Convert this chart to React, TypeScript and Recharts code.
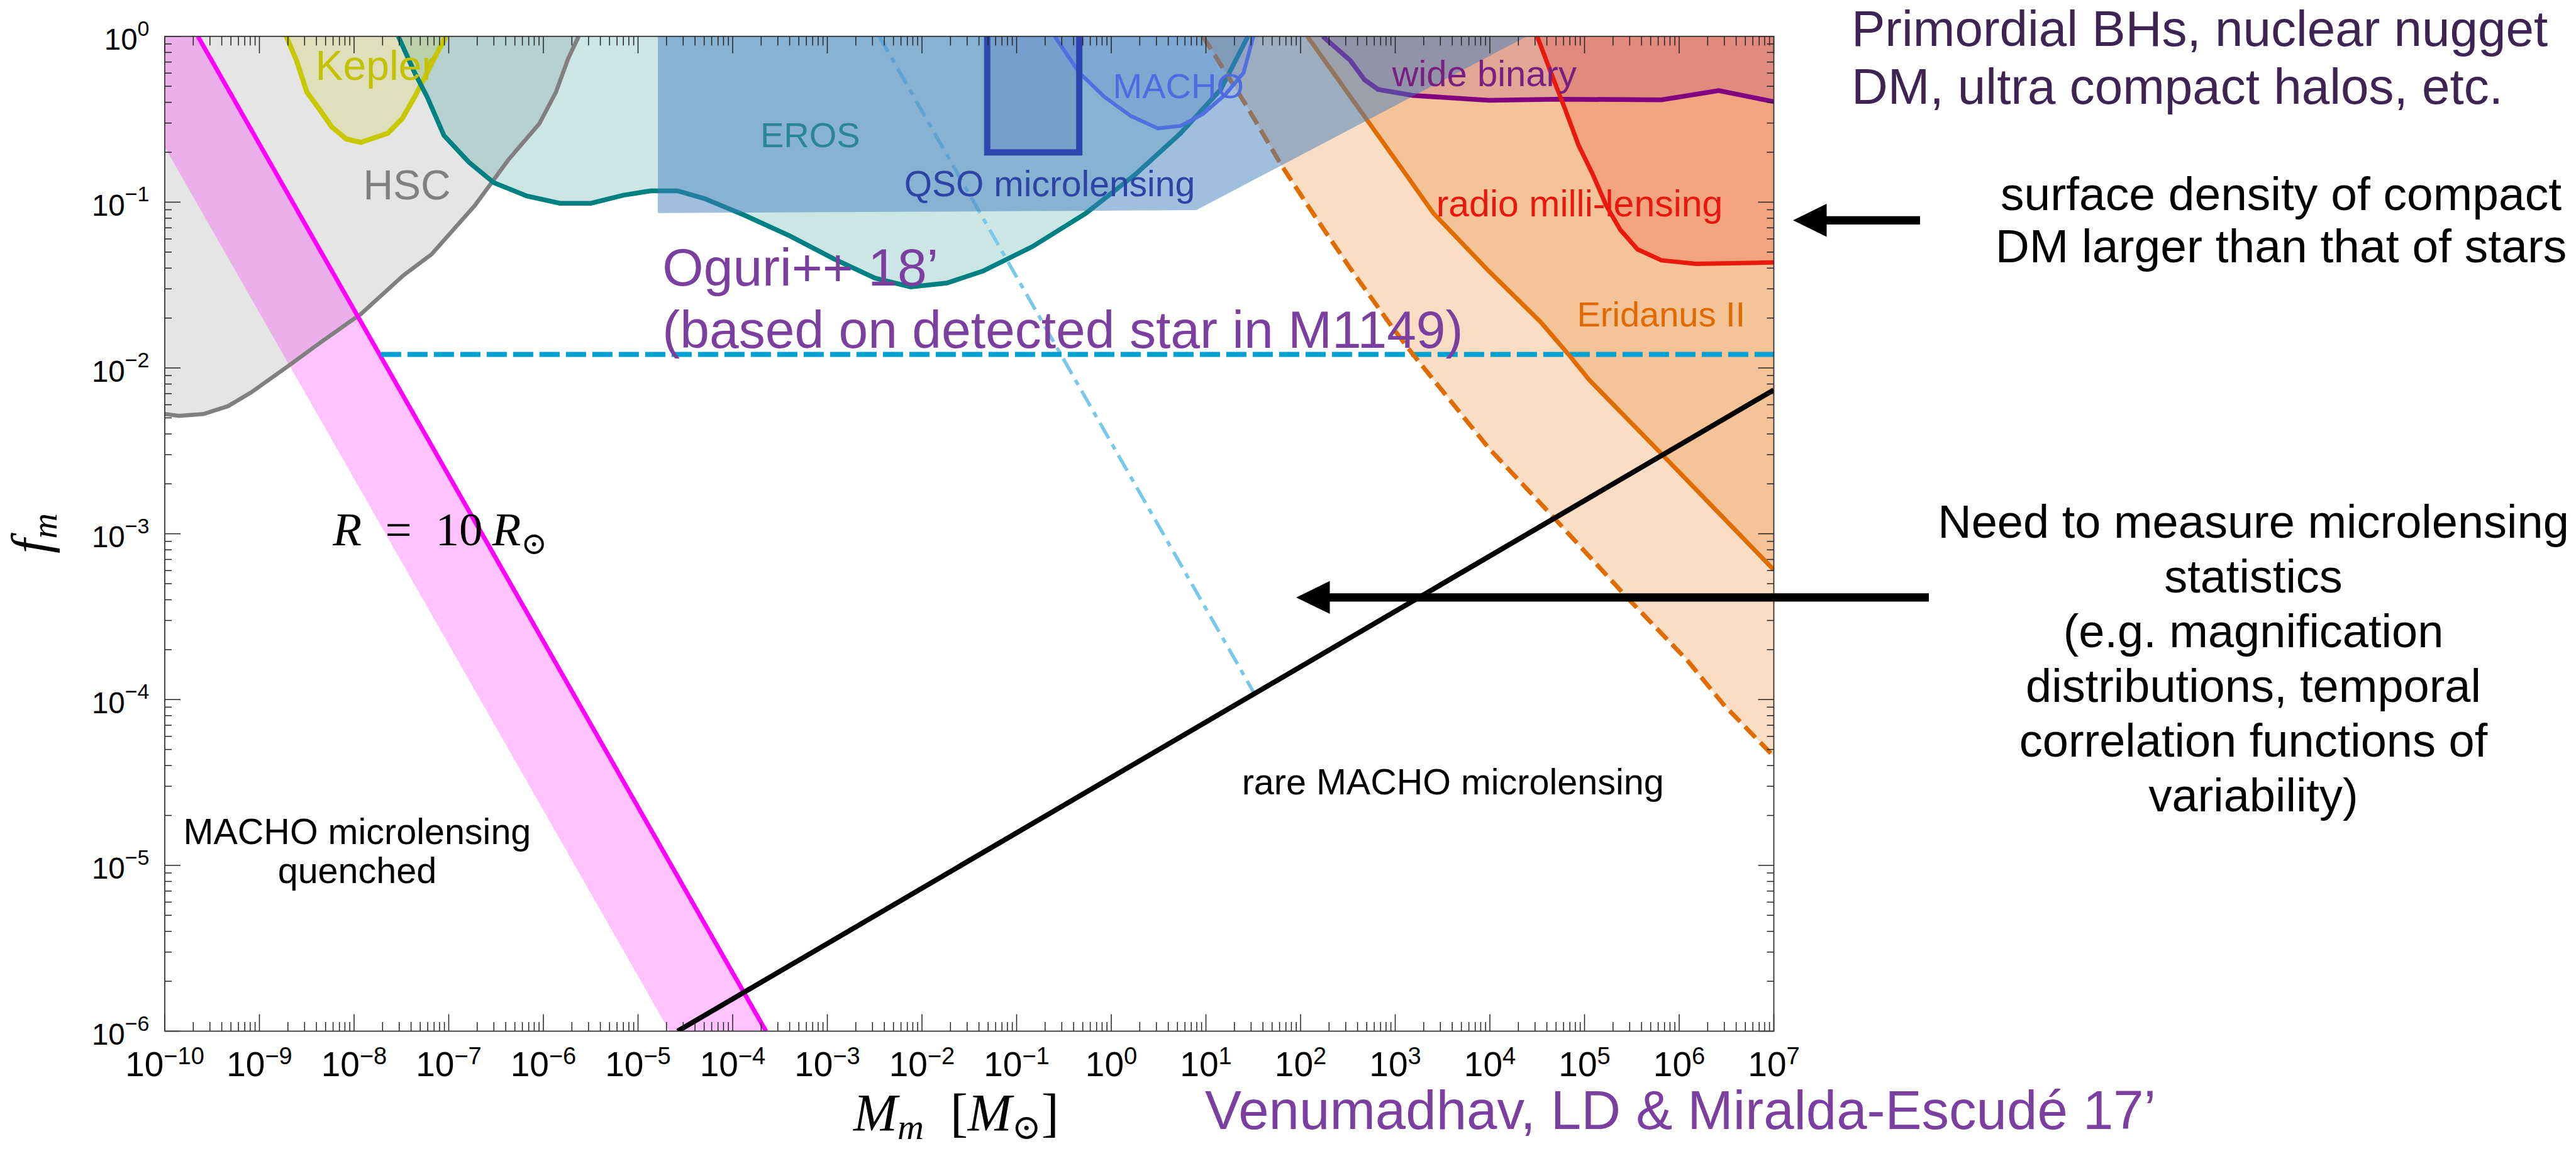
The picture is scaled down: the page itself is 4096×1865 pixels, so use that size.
import React from 'react'
import { ComposedChart, Area, Line, XAxis, YAxis, ReferenceDot } from 'recharts'

const W = 4096
const H = 1865
const PLOT_LEFT = 262
const PLOT_RIGHT = 2820.5
const PLOT_TOP = 57.8
const PLOT_BOTTOM = 1639.5
const X_AXIS_H = 80
const Y_AXIS_W = 200

const SANS = "'Liberation Sans', Arial, Helvetica, sans-serif"
const SERIF = "'Liberation Serif', 'DejaVu Serif', 'Times New Roman', serif"
const PURPLE = '#7b3f9f'
const TICK = '#222'

// decades on the two axes
const massDecades = [-10, -9, -8, -7, -6, -5, -4, -3, -2, -1, 0, 1, 2, 3, 4, 5, 6, 7]
const fracDecades = [-6, -5, -4, -3, -2, -1, 0]

// all curves are log10(M/Msun) vs log10(f_m)
const hscLogM = [-10, -9.851, -9.593, -9.33, -9.089, -8.688, -8.328, -7.927, -7.48, -7.182, -6.724, -6.372, -6.042, -5.868, -5.736, -5.627]
const hscLogF = [-2.278, -2.289, -2.278, -2.23, -2.148, -1.985, -1.835, -1.674, -1.442, -1.315, -1.02, -0.746, -0.526, -0.337, -0.131, 0]

const keplerLogM = [-8.717, -8.608, -8.499, -8.368, -8.236, -8.081, -7.927, -7.643, -7.491, -7.36, -7.228, -7.139, -7.029]
const keplerLogF = [0, -0.146, -0.336, -0.438, -0.546, -0.62, -0.639, -0.584, -0.496, -0.365, -0.219, -0.117, 0]

const erosLogM = [-7.533, -7.36, -7.228, -7.05, -6.787, -6.523, -6.174, -5.825, -5.498, -5.155, -4.868, -4.582, -4.301, -3.874, -3.399, -2.927, -2.497, -2.119, -1.738, -1.357, -0.836, -0.266, 0.258, 0.733, 1.157, 1.443]
const erosLogF = [0, -0.219, -0.365, -0.598, -0.759, -0.883, -0.963, -1.007, -1.007, -0.958, -0.932, -0.932, -0.978, -1.079, -1.203, -1.343, -1.458, -1.511, -1.488, -1.416, -1.269, -1.066, -0.831, -0.584, -0.32, 0]

const machoLogM = [-0.598, -0.338, -0.074, 0.209, 0.493, 0.733, 0.968, 1.206, 1.398, 1.501]
const machoLogF = [0, -0.219, -0.365, -0.481, -0.555, -0.54, -0.468, -0.35, -0.219, 0]

const qsoLogM = [-4.79, 0.899, 4.391]
const qsoLogF = [-1.066, -1.048, 0]

const rectLogM = [-1.311, -1.311, -0.338, -0.338]
const rectLogF = [0, -0.7, -0.7, 0]

const eriDashLogM = [0.968, 1.432, 1.798, 2.163, 2.526, 2.967, 3.184, 3.989, 4.645, 5.45, 6.082, 6.472, 7]
const eriDashLogF = [0, -0.422, -0.778, -1.095, -1.4, -1.753, -1.916, -2.484, -2.884, -3.385, -3.761, -4.032, -4.343]

const eriLogM = [2.071, 2.709, 3.076, 3.402, 3.989, 4.536, 4.828, 5.046, 5.813, 6.546, 7]
const eriLogF = [0, -0.51, -0.803, -1.066, -1.416, -1.723, -1.916, -2.07, -2.518, -2.95, -3.218]

const radioLogM = [4.5, 4.645, 4.794, 4.937, 5.086, 5.229, 5.378, 5.561, 5.813, 6.18, 7]
const radioLogF = [0, -0.219, -0.438, -0.657, -0.831, -1.02, -1.167, -1.285, -1.351, -1.372, -1.364]

const binaryLogM = [2.234, 2.526, 2.675, 2.818, 3.184, 3.989, 4.719, 5.813, 6.418, 7]
const binaryLogF = [0, -0.146, -0.262, -0.32, -0.356, -0.386, -0.379, -0.383, -0.327, -0.394]

// R = 10 Rsun band
const bandLogM = [-10, -9.65, -4.668, -3.648]
const bandLogLo = [-0.668, -1.018, -6, -6]
const bandLogHi = [0, 0, -4.982, -6]
const radiusLogM = [-9.65, -3.648]
const radiusLogF = [0, -6]

const sourceLogM = [-2.451, 1.501]
const sourceLogF = [0, -3.953]

const oguriLogM = [-7.715, 7]
const oguriLogF = [-1.918, -1.918]

const rareLogM = [-4.582, 7]
const rareLogF = [-6, -2.132]

const curve = (lm: number[], lf: number[]) => lm.map((v, i) => ({ m: 10 ** v, f: 10 ** lf[i] }))
const toTop = (lm: number[], lf: number[]) => lm.map((v, i) => ({ m: 10 ** v, band: [10 ** lf[i], 1] }))
const between = (lm: number[], lo: number[], hi: number[]) =>
  lm.map((v, i) => ({ m: 10 ** v, band: [10 ** lo[i], 10 ** hi[i]] }))

const withMinor = (decades: number[]) => {
  const out: number[] = []
  decades.forEach((d, i) => {
    out.push(10 ** d)
    if (i < decades.length - 1) for (let k = 2; k <= 9; k++) out.push(k * 10 ** d)
  })
  return out
}
const massTicks = withMinor(massDecades)
const fracTicks = withMinor(fracDecades)

const expLabel = (e: number) => (e < 0 ? '\u2212' + -e : String(e))
const isMajor = (v: number) => {
  const lg = Math.log10(v)
  return Math.abs(lg - Math.round(lg)) < 1e-6
}

function MassTick(props: any) {
  const { x, payload } = props
  const major = isMajor(payload.value)
  const len = major ? 27 : 14.5
  return (
    <g>
      <line x1={x} x2={x} y1={PLOT_BOTTOM} y2={PLOT_BOTTOM - len} stroke={TICK} strokeWidth={1.5} />
      <line x1={x} x2={x} y1={PLOT_TOP} y2={PLOT_TOP + len} stroke={TICK} strokeWidth={1.5} />
      {major && (
        <text x={x} y={PLOT_BOTTOM + 71.5} textAnchor="middle" fontFamily={SANS} fontSize={55} fill="#000">
          10<tspan dy={-19} fontSize={38}>{expLabel(Math.round(Math.log10(payload.value)))}</tspan>
        </text>
      )}
    </g>
  )
}

function FracTick(props: any) {
  const { y, payload } = props
  const major = isMajor(payload.value)
  const len = major ? 25 : 11
  return (
    <g>
      <line x1={PLOT_LEFT} x2={PLOT_LEFT + len} y1={y} y2={y} stroke={TICK} strokeWidth={1.5} />
      <line x1={PLOT_RIGHT} x2={PLOT_RIGHT - len} y1={y} y2={y} stroke={TICK} strokeWidth={1.5} />
      {major && (
        <text x={PLOT_LEFT - 24.5} y={y + 21.5} textAnchor="end" fontFamily={SANS} fontSize={47.5} fill="#000">
          10<tspan dy={-22.5} fontSize={34}>{expLabel(Math.round(Math.log10(payload.value)))}</tspan>
        </text>
      )}
    </g>
  )
}

const NOTES = [
  { text: 'Kepler', lm: -8.408, lf: -0.262, color: '#c4c200', size: 66, anchor: 'start' },
  { text: 'HSC', lm: -7.904, lf: -0.984, color: '#808080', size: 66, anchor: 'start' },
  { text: 'EROS', lm: -3.708, lf: -0.67, color: '#2b8597', size: 56, anchor: 'start' },
  { text: 'QSO microlensing', lm: -2.188, lf: -0.963, color: '#2e43a6', size: 57, anchor: 'start' },
  { text: 'MACHO', lm: 0.017, lf: -0.372, color: '#4f6be0', size: 56, anchor: 'start' },
  { text: 'wide binary', lm: 2.967, lf: -0.299, color: '#7a1f82', size: 58, anchor: 'start' },
  { text: 'radio milli-lensing', lm: 3.433, lf: -1.087, color: '#e8170f', size: 59, anchor: 'start' },
  { text: 'Eridanus II', lm: 4.92, lf: -1.751, color: '#e06a00', size: 56, anchor: 'start' },
  { text: 'Oguri++ 18\u2019', lm: -4.742, lf: -1.504, color: PURPLE, size: 84, anchor: 'start' },
  { text: '(based on detected star in M1149)', lm: -4.742, lf: -1.88, color: PURPLE, size: 84, anchor: 'start' },
  { text: 'MACHO microlensing', lm: -7.967, lf: -4.872, color: '#000', size: 57.5, anchor: 'middle' },
  { text: 'quenched', lm: -7.967, lf: -5.105, color: '#000', size: 57.5, anchor: 'middle' },
  { text: 'rare MACHO microlensing', lm: 1.38, lf: -4.572, color: '#000', size: 57.5, anchor: 'start' },
]

const RIGHT_NOTES = [
  'Need to measure microlensing',
  'statistics',
  '(e.g. magnification',
  'distributions, temporal',
  'correlation functions of',
  'variability)',
]

function Arrow({ tipX, tipY, endX }: { tipX: number; tipY: number; endX: number }) {
  const head = 53.5
  const half = 26.2
  const shaft = 6.6
  return (
    <g fill="#000">
      <rect x={tipX + head - 1} y={tipY - shaft} width={endX - tipX - head + 1} height={shaft * 2} />
      <polygon points={`${tipX},${tipY} ${tipX + head},${tipY - half} ${tipX + head},${tipY + half}`} />
    </g>
  )
}

export default function App() {
  const lineCommon = { type: 'linear' as const, dot: false, activeDot: false, isAnimationActive: false }
  const fillCommon = { type: 'linear' as const, dataKey: 'band', stroke: 'none', dot: false, activeDot: false, isAnimationActive: false }

  return (
    <div style={{ position: 'fixed', left: 0, top: 0, width: W, height: H, overflow: 'hidden', background: '#fff' }}>
      <ComposedChart
        width={W}
        height={H}
        margin={{ top: PLOT_TOP, right: W - PLOT_RIGHT, bottom: H - PLOT_BOTTOM - X_AXIS_H, left: PLOT_LEFT - Y_AXIS_W }}
      >
        <XAxis
          dataKey="m"
          type="number"
          scale="log"
          domain={[1e-10, 1e7]}
          allowDataOverflow
          ticks={massTicks}
          interval={0}
          tick={(p: any) => <MassTick {...p} />}
          tickLine={false}
          axisLine={false}
          height={X_AXIS_H}
        />
        <YAxis
          type="number"
          scale="log"
          domain={[1e-6, 1]}
          allowDataOverflow
          ticks={fracTicks}
          interval={0}
          tick={(p: any) => <FracTick {...p} />}
          tickLine={false}
          axisLine={false}
          width={Y_AXIS_W}
        />

        {/* excluded regions */}
        <Area {...fillCommon} data={toTop(hscLogM, hscLogF)} fill="#e5e5e5" fillOpacity={1} zIndex={101} />
        <Area {...fillCommon} data={toTop(erosLogM, erosLogF)} fill="#008080" fillOpacity={0.2} zIndex={102} />
        <Area {...fillCommon} data={toTop(keplerLogM, keplerLogF)} fill="#c8c800" fillOpacity={0.18} zIndex={103} />
        <Area {...fillCommon} data={toTop(eriDashLogM, eriDashLogF)} fill="#e67814" fillOpacity={0.25} zIndex={104} />
        <Area {...fillCommon} data={toTop(eriLogM, eriLogF)} fill="#e67814" fillOpacity={0.25} zIndex={105} />
        <Area {...fillCommon} data={toTop(radioLogM, radioLogF)} fill="#e81e10" fillOpacity={0.19} zIndex={106} />
        <Area {...fillCommon} data={toTop(binaryLogM, binaryLogF)} fill="#800080" fillOpacity={0.15} zIndex={107} />
        <Area {...fillCommon} data={between(bandLogM, bandLogLo, bandLogHi)} fill="#ff00ff" fillOpacity={0.23} zIndex={108} />

        {/* bounding curves */}
        <Line {...lineCommon} data={curve(hscLogM, hscLogF)} dataKey="f" stroke="#808080" strokeWidth={6.5} zIndex={201} />
        <Line {...lineCommon} data={curve(keplerLogM, keplerLogF)} dataKey="f" stroke="#c8c800" strokeWidth={8} zIndex={202} />
        <Line {...lineCommon} data={curve(erosLogM, erosLogF)} dataKey="f" stroke="#008080" strokeWidth={7.5} zIndex={203} />
        <Line {...lineCommon} data={curve(radiusLogM, radiusLogF)} dataKey="f" stroke="#ff00ff" strokeWidth={7} zIndex={204} />
        <Line {...lineCommon} data={curve(sourceLogM, sourceLogF)} dataKey="f" stroke="#7ac8e8" strokeWidth={5.5} strokeDasharray="28 11 9 11" zIndex={205} />
        <Line {...lineCommon} data={curve(oguriLogM, oguriLogF)} dataKey="f" stroke="#00a0d0" strokeWidth={8} strokeDasharray="32 10" zIndex={206} />
        <Line {...lineCommon} data={curve(eriDashLogM, eriDashLogF)} dataKey="f" stroke="#e06c00" strokeWidth={7} strokeDasharray="24 11" zIndex={207} />
        <Line {...lineCommon} data={curve(eriLogM, eriLogF)} dataKey="f" stroke="#e06c00" strokeWidth={7} zIndex={208} />
        <Line {...lineCommon} data={curve(binaryLogM, binaryLogF)} dataKey="f" stroke="#800080" strokeWidth={7.5} zIndex={209} />
        <Line {...lineCommon} data={curve(radioLogM, radioLogF)} dataKey="f" stroke="#e8190e" strokeWidth={7} zIndex={210} />
        <Line {...lineCommon} data={curve(rareLogM, rareLogF)} dataKey="f" stroke="#000" strokeWidth={8} zIndex={211} />

        {/* QSO microlensing box sits on top */}
        <Area {...fillCommon} data={toTop(qsoLogM, qsoLogF)} fill="#417dbb" fillOpacity={0.5} zIndex={300} />
        <Area {...fillCommon} data={toTop(machoLogM, machoLogF)} fill="#5070e0" fillOpacity={0.15} zIndex={301} />
        <Area {...fillCommon} data={toTop([rectLogM[0], rectLogM[3]], [rectLogF[1], rectLogF[2]])} fill="#2e46b0" fillOpacity={0.18} zIndex={302} />
        <Line {...lineCommon} data={curve(machoLogM, machoLogF)} dataKey="f" stroke="#5070e0" strokeWidth={6} zIndex={303} />
        <Line {...lineCommon} data={curve(rectLogM, rectLogF)} dataKey="f" stroke="#2e46b0" strokeWidth={10} zIndex={304} />

        {NOTES.map((n) => (
          <ReferenceDot
            key={n.text}
            x={10 ** n.lm}
            y={10 ** n.lf}
            r={0}
            ifOverflow="visible"
            zIndex={500}
            shape={(p: any) => (
              <text x={p.cx} y={p.cy} textAnchor={n.anchor} fontFamily={SANS} fontSize={n.size} fill={n.color}>
                {n.text}
              </text>
            )}
          />
        ))}
        <ReferenceDot
          x={10 ** -8.224}
          y={10 ** -3.07}
          r={0}
          ifOverflow="visible"
          zIndex={500}
          shape={(p: any) => (
            <text x={p.cx} y={p.cy} fontFamily={SERIF} fontSize={75} fill="#000">
              <tspan fontStyle="italic">R</tspan>
              <tspan>{'\u2002=\u200210\u2009'}</tspan>
              <tspan fontStyle="italic">R</tspan>
              <tspan fontSize={50} dy={14}>{'\u2299'}</tspan>
            </text>
          )}
        />
      </ComposedChart>

      <svg width={W} height={H} style={{ position: 'absolute', left: 0, top: 0, pointerEvents: 'none' }}>
        <rect
          x={PLOT_LEFT}
          y={PLOT_TOP}
          width={PLOT_RIGHT - PLOT_LEFT}
          height={PLOT_BOTTOM - PLOT_TOP}
          fill="none"
          stroke="#333"
          strokeWidth={1.8}
        />

        {/* axis titles */}
        <text transform="translate(77,848) rotate(-90)" textAnchor="middle" fontFamily={SERIF} fontSize={84} fill="#000">
          <tspan fontStyle="italic">f</tspan>
          <tspan fontStyle="italic" fontSize={56} dy={13}>m</tspan>
        </text>
        <text x={1357} y={1798} fontFamily={SERIF} fontSize={84} fill="#000">
          <tspan fontStyle="italic">M</tspan>
          <tspan fontStyle="italic" fontSize={58} dy={13}>m</tspan>
          <tspan dy={-13}>{'\u2002['}</tspan>
          <tspan fontStyle="italic">M</tspan>
          <tspan fontSize={56} dy={13}>{'\u2299'}</tspan>
          <tspan dy={-13}>]</tspan>
        </text>

        <text x={1916} y={1795} fontFamily={SANS} fontSize={87} fill={PURPLE}>
          {'Venumadhav, LD & Miralda-Escud\u00e9 17\u2019'}
        </text>

        <text fontFamily={SANS} fontSize={80} fill="#3d2452">
          <tspan x={2944} y={73}>Primordial BHs, nuclear nugget</tspan>
          <tspan x={2944} y={165}>DM, ultra compact halos, etc.</tspan>
        </text>

        <text fontFamily={SANS} fontSize={75} fill="#000" textAnchor="middle">
          <tspan x={3627} y={334}>surface density of compact</tspan>
          <tspan x={3627} y={416.5}>DM larger than that of stars</tspan>
        </text>

        <text fontFamily={SANS} fontSize={74} fill="#000" textAnchor="middle">
          {RIGHT_NOTES.map((t, i) => (
            <tspan key={t} x={3583} y={854.7 + i * 87}>
              {t}
            </tspan>
          ))}
        </text>

        <Arrow tipX={2851} tipY={350.3} endX={3053} />
        <Arrow tipX={2061} tipY={949.9} endX={3067} />
      </svg>
    </div>
  )
}
